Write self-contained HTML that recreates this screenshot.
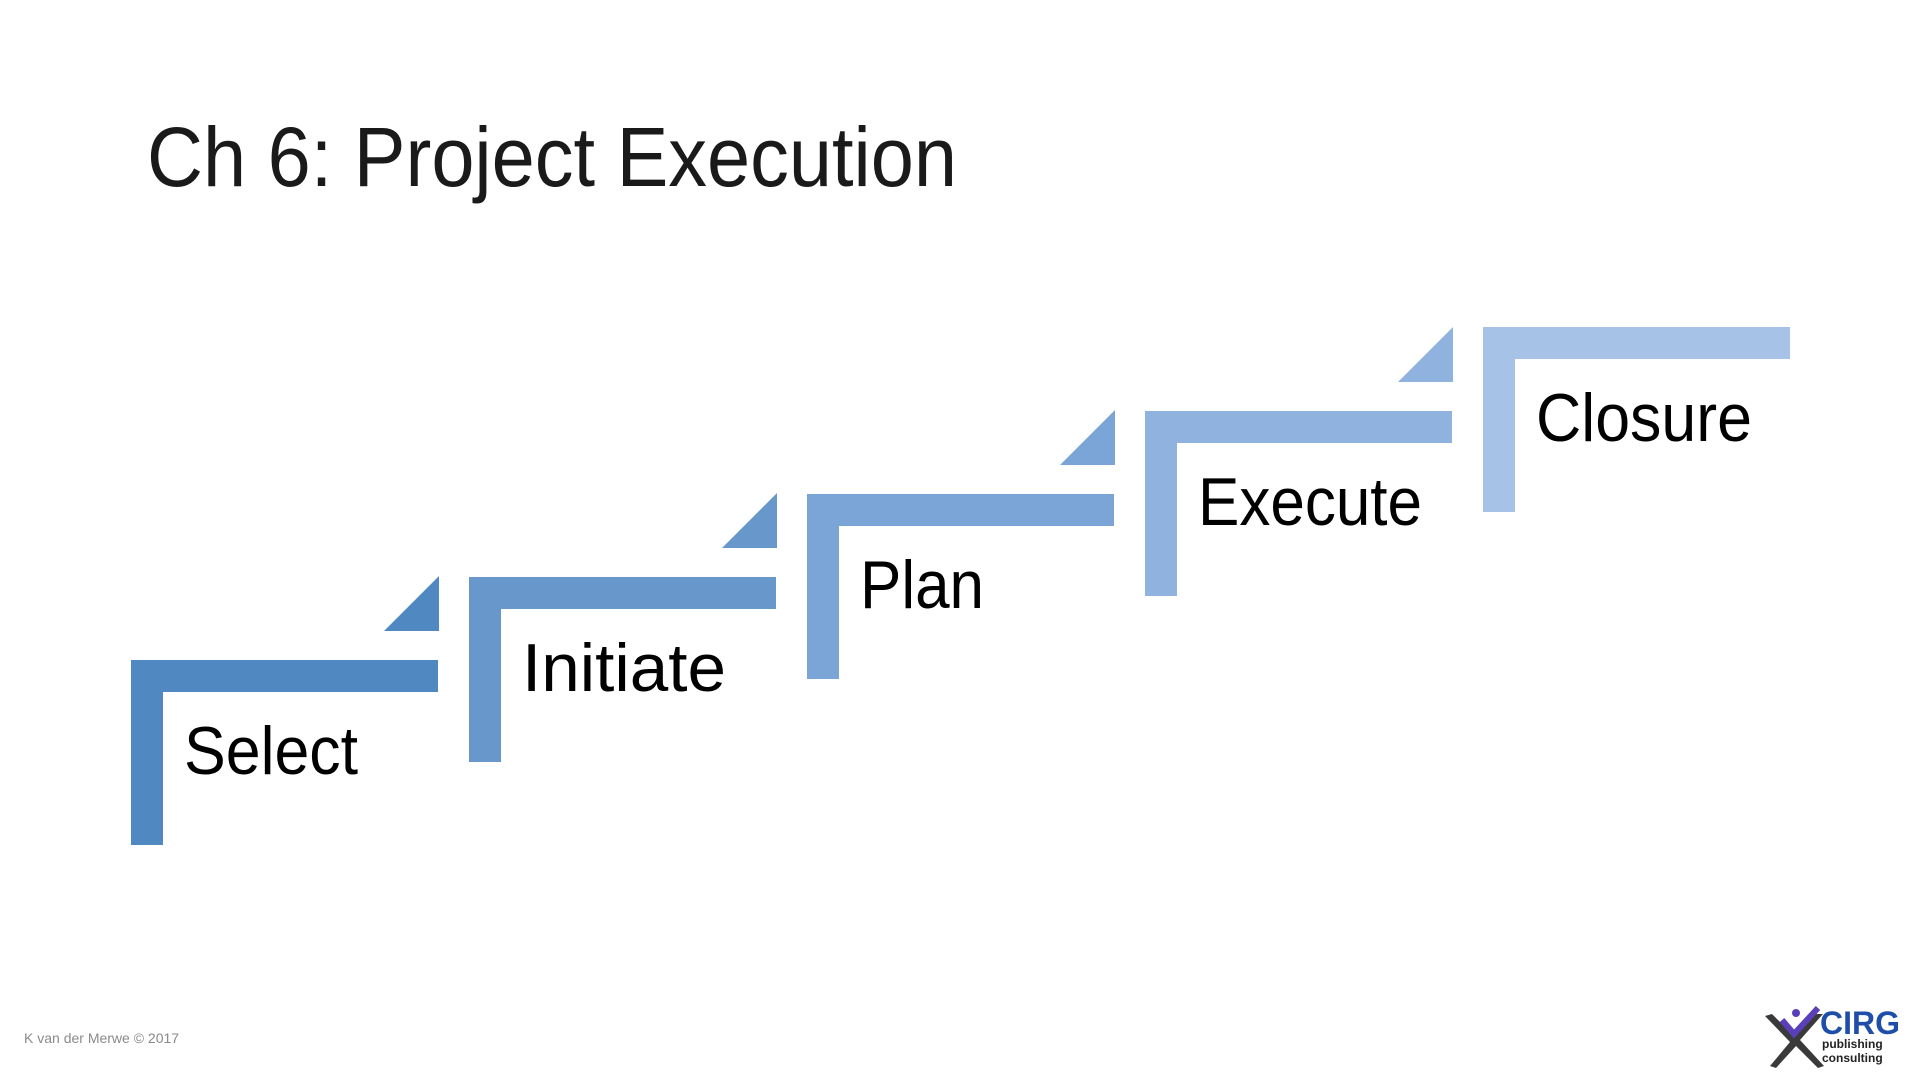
<!DOCTYPE html>
<html><head><meta charset="utf-8"><style>
html,body{margin:0;padding:0;background:#fff;}
svg{display:block;}
</style></head><body>
<svg width="1920" height="1080" viewBox="0 0 1920 1080" xmlns="http://www.w3.org/2000/svg">
<rect width="1920" height="1080" fill="#fff"/>
<text x="147" y="186" font-family="Liberation Sans, sans-serif" font-size="84" fill="#1a1a1a" textLength="810" lengthAdjust="spacingAndGlyphs">Ch 6: Project Execution</text>
<g font-family="Liberation Sans, sans-serif" font-size="68" fill="#000">
<!-- Select -->
<path d="M131 660 H438 V692 H163 V845 H131 Z" fill="#5089c1"/>
<polygon points="384,631 439,576 439,631" fill="#5089c1"/>
<text x="184" y="774" textLength="174" lengthAdjust="spacingAndGlyphs">Select</text>
<!-- Initiate -->
<path d="M469 577 H776 V609 H501 V762 H469 Z" fill="#6898cb"/>
<polygon points="722,548 777,493 777,548" fill="#6898cb"/>
<text x="522" y="691" textLength="204" lengthAdjust="spacingAndGlyphs">Initiate</text>
<!-- Plan -->
<path d="M807 494 H1114 V526 H839 V679 H807 Z" fill="#7aa5d6"/>
<polygon points="1060,465 1115,410 1115,465" fill="#7aa5d6"/>
<text x="860" y="608" textLength="124" lengthAdjust="spacingAndGlyphs">Plan</text>
<!-- Execute -->
<path d="M1145 411 H1452 V443 H1177 V596 H1145 Z" fill="#8fb2df"/>
<polygon points="1398,382 1453,327 1453,382" fill="#8fb2df"/>
<text x="1198" y="525" textLength="224" lengthAdjust="spacingAndGlyphs">Execute</text>
<!-- Closure -->
<path d="M1483 327 H1790 V359 H1515 V512 H1483 Z" fill="#a6c2e6"/>
<text x="1536" y="441" textLength="216" lengthAdjust="spacingAndGlyphs">Closure</text>
</g>
<text x="24" y="1043" font-family="Liberation Sans, sans-serif" font-size="14" fill="#8a8a8a">K van der Merwe © 2017</text>
<!-- logo -->
<g>
<path d="M1765 1016 L1790 1042 L1770 1066 L1776 1068 L1796 1046 L1818 1068 L1824 1066 L1800 1040 L1823 1014 L1816 1014 L1794 1036 L1772 1014 Z" fill="#3a3a3a"/>
<path d="M1782 1020 L1794 1034 L1818 1008" stroke="#5a3fb8" stroke-width="6" fill="none"/>
<circle cx="1796" cy="1013" r="4" fill="#5a3fb8"/>
<text x="1820" y="1034" font-family="Liberation Sans, sans-serif" font-weight="bold" font-size="32" fill="#1f4ea8">CIRG</text>
<text x="1822" y="1048" font-family="Liberation Sans, sans-serif" font-weight="bold" font-size="12" fill="#222">publishing</text>
<text x="1822" y="1062" font-family="Liberation Sans, sans-serif" font-weight="bold" font-size="12" fill="#222">consulting</text>
</g>
</svg>
</body></html>
